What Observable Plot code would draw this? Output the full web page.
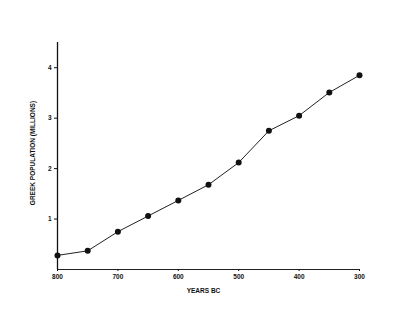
<!DOCTYPE html>
<html>
<head>
<meta charset="utf-8">
<script src="https://cdn.jsdelivr.net/npm/d3@7"></script>
<script src="https://cdn.jsdelivr.net/npm/@observablehq/plot@0.6"></script>
<style>
  html, body { margin: 0; padding: 0; background: #fff; }
</style>
</head>
<body>
<div id="chart"></div>
<script>
const years = [800, 750, 700, 650, 600, 550, 500, 450, 400, 350, 300];
const population = [0.28, 0.37, 0.75, 1.06, 1.37, 1.68, 2.12, 2.75, 3.05, 3.51, 3.85];
const xTicks = [800, 700, 600, 500, 400, 300];
const yTicks = [1, 2, 3, 4];
const yLabel = "GREEK POPULATION (MILLIONS)";
const xLabel = "YEARS BC";

const data = years.map((y, i) => ({year: y, pop: population[i]}));

const chart = Plot.plot({
  width: 393,
  height: 317,
  marginLeft: 57,
  marginRight: 34,
  marginTop: 42,
  marginBottom: 48,
  style: {fontFamily: "Liberation Sans, Arial, sans-serif", fontSize: "6.5px", fontWeight: "bold", color: "#111", background: "#fff"},
  x: {domain: [800, 300]},
  y: {domain: [0, 4.5]},
  marks: [
    Plot.ruleX([800], {stroke: "#111", strokeWidth: 1.3}),
    Plot.ruleY([0], {stroke: "#222", strokeWidth: 1.1}),
    Plot.axisY({ticks: yTicks, tickFormat: "d", tickSize: 3, tickPadding: 3, label: null}),
    Plot.axisX({ticks: xTicks, tickFormat: "d", tickSize: 2, tickPadding: 3, label: null}),
    Plot.text([yLabel], {text: d => d, frameAnchor: "left", textAnchor: "middle", dx: -25, dy: -3, rotate: -90, fontSize: 6.5, fontWeight: "bold", fill: "#111"}),
    Plot.text([xLabel], {text: d => d, frameAnchor: "bottom", textAnchor: "middle", dx: -5, dy: 23, fontSize: 6.5, fontWeight: "bold", fill: "#111"}),
    Plot.line(data, {x: "year", y: "pop", stroke: "#222", strokeWidth: 1}),
    Plot.dot(data, {x: "year", y: "pop", r: 3, fill: "#111", stroke: "none"})
  ]
});
document.getElementById("chart").appendChild(chart);
</script>
</body>
</html>
